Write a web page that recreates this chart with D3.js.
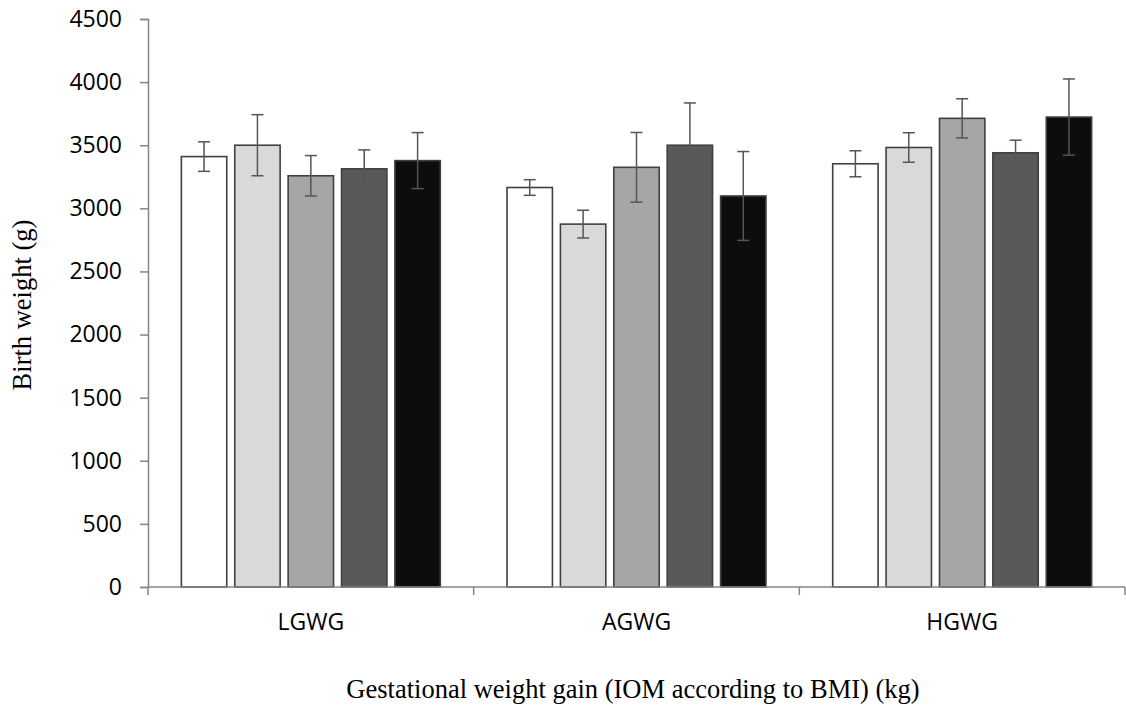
<!DOCTYPE html>
<html>
<head>
<meta charset="utf-8">
<script src="https://cdn.jsdelivr.net/npm/d3@7"></script>
<style>
  body { margin: 0; background: #fff; }
  svg { display: block; }
  .tick text { font-family: "Open Sans", sans-serif; fill: #000; }
  .title { font-family: "Liberation Serif", "Times New Roman", serif; fill: #000; }
</style>
</head>
<body>
<svg class="chart" width="1126" height="709"></svg>
<script>
// groups on x axis
var groups = ["LGWG", "AGWG", "HGWG"];
// five series (one bar per group each)
var series = ["s1", "s2", "s3", "s4", "s5"];
var seriesColors = ["#ffffff", "#d9d9d9", "#a6a6a6", "#595959", "#0d0d0d"];

// mean birth weight, one array per group
var meanLGWG = [3410, 3500, 3258, 3313, 3378];
var meanAGWG = [3165, 2875, 3325, 3500, 3098];
var meanHGWG = [3353, 3482, 3713, 3440, 3723];

// error bar half-width
var errLGWG = [117, 242, 160, 150, 222];
var errAGWG = [62, 110, 276, 335, 352];
var errHGWG = [103, 117, 155, 100, 302];

var yTicks = [0, 500, 1000, 1500, 2000, 2500, 3000, 3500, 4000, 4500];

var means = [meanLGWG, meanAGWG, meanHGWG];
var errs = [errLGWG, errAGWG, errHGWG];

var data = [];
groups.forEach(function (g, gi) {
    series.forEach(function (s, si) {
        data.push({ group: g, series: s, idx: si, value: means[gi][si], err: errs[gi][si] });
    });
});

var svg = d3.select(".chart");
var margin = { top: 19, right: 1, bottom: 122, left: 148 },
    width = +svg.attr("width") - margin.left - margin.right,
    height = +svg.attr("height") - margin.top - margin.bottom;

var x0 = d3.scaleBand().domain(groups).range([0, width]).padding(0);
var x1 = d3.scaleBand().domain(series).range([0, x0.bandwidth()])
    .paddingInner(0.15).paddingOuter(0.625);
var y = d3.scaleLinear().domain([0, 4500]).range([height, 0]);

var g = svg.append("g").attr("transform", "translate(" + margin.left + "," + margin.top + ")");

var axisColor = "#868686";

// y axis
var yAxis = g.append("g")
    .call(d3.axisLeft(y).tickValues(yTicks).tickFormat(d3.format("d")).tickSize(8).tickPadding(18));
yAxis.select(".domain").attr("stroke", axisColor).attr("stroke-width", 1.5);
yAxis.selectAll(".tick line").attr("stroke", axisColor).attr("stroke-width", 1.5);
yAxis.selectAll(".tick text").style("font-size", "23px");

// bars
var bars = g.append("g").selectAll("g")
    .data(data).enter().append("g")
    .attr("transform", function (d) { return "translate(" + x0(d.group) + ",0)"; });

bars.append("rect")
    .attr("x", function (d) { return x1(d.series); })
    .attr("y", function (d) { return y(d.value); })
    .attr("width", x1.bandwidth())
    .attr("height", function (d) { return height - y(d.value); })
    .attr("fill", function (d) { return seriesColors[d.idx]; })
    .attr("stroke", "#404040")
    .attr("stroke-width", 1.6);

// error bars
var capW = 6;
bars.append("line")
    .attr("x1", function (d) { return x1(d.series) + x1.bandwidth() / 2; })
    .attr("x2", function (d) { return x1(d.series) + x1.bandwidth() / 2; })
    .attr("y1", function (d) { return y(d.value + d.err); })
    .attr("y2", function (d) { return y(d.value - d.err); })
    .attr("stroke", "#555").attr("stroke-width", 1.5);
[1, -1].forEach(function (sign) {
    bars.append("line")
        .attr("x1", function (d) { return x1(d.series) + x1.bandwidth() / 2 - capW; })
        .attr("x2", function (d) { return x1(d.series) + x1.bandwidth() / 2 + capW; })
        .attr("y1", function (d) { return y(d.value + sign * d.err); })
        .attr("y2", function (d) { return y(d.value + sign * d.err); })
        .attr("stroke", "#555").attr("stroke-width", 1.5);
});

// x axis
var xAxisG = g.append("g").attr("transform", "translate(0," + height + ")");
xAxisG.append("line")
    .attr("x1", 0).attr("x2", width).attr("y1", 0).attr("y2", 0)
    .attr("stroke", axisColor).attr("stroke-width", 1.5);
xAxisG.selectAll(".sep")
    .data(groups.concat(["end"])).enter().append("line")
    .attr("x1", function (d, i) { return i < groups.length ? x0(d) : width; })
    .attr("x2", function (d, i) { return i < groups.length ? x0(d) : width; })
    .attr("y1", 0).attr("y2", 8)
    .attr("stroke", axisColor).attr("stroke-width", 1.5);
xAxisG.selectAll(".lbl")
    .data(groups).enter().append("text")
    .attr("x", function (d) { return x0(d) + x0.bandwidth() / 2; })
    .attr("y", 43)
    .attr("text-anchor", "middle")
    .style("font-family", "'Open Sans', sans-serif")
    .style("font-size", "23px")
    .text(function (d) { return d; });

// titles
svg.append("text")
    .attr("class", "title")
    .attr("transform", "translate(31,305) rotate(-90)")
    .attr("text-anchor", "middle")
    .style("font-size", "26.5px")
    .text("Birth weight (g)");

svg.append("text")
    .attr("class", "title")
    .attr("x", 633).attr("y", 698)
    .attr("text-anchor", "middle")
    .style("font-size", "26.5px")
    .text("Gestational weight gain (IOM according to BMI) (kg)");
</script>
</body>
</html>
